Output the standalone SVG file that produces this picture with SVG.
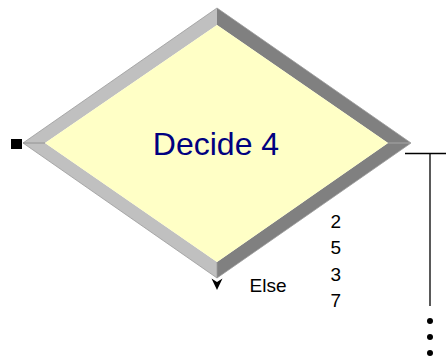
<svg xmlns="http://www.w3.org/2000/svg" width="446" height="360" viewBox="0 0 446 360">
<style>
.light{fill:#c0c0c0}
.dark{fill:#808080}
.lbl{font-family:"Liberation Sans",Arial,sans-serif;font-size:19px;fill:#000}
.title{font-family:"Liberation Sans",Arial,sans-serif;font-size:32px;fill:#000080}
.conn{stroke:#000;stroke-width:1.3;fill:none}
</style>
<rect width="446" height="360" fill="#fff"/>
<g id="decide4">
<polygon class="light" points="23,143 217,8 217,25 45,143"/>
<polygon class="dark" points="217,8 411,143 388,143 217,25"/>
<polygon class="dark" points="411,143 217,278 217,262 388,143"/>
<polygon class="light" points="23,143 45,143 217,262 217,278"/>
<polygon points="45,143 217,25 388,143 217,262" fill="#ffffc6"/>
<polygon points="23,143 217,8 411,143 217,278" fill="none" stroke="#9a9a9a" stroke-width="0.8"/>
<line x1="23" y1="143" x2="45" y2="143" stroke="#888" stroke-width="0.8"/>
<line x1="388" y1="143" x2="411" y2="143" stroke="#b0b0b0" stroke-width="0.8"/>
<line x1="217" y1="262" x2="217" y2="278" stroke="#999" stroke-width="0.8"/>
<text class="title" x="216" y="155" text-anchor="middle">Decide 4</text>
<rect x="11" y="139" width="11" height="10" fill="#000"/>
<path d="M211.5,278.5 L217,282 L222.5,278.5 L217,290 Z" fill="#000"/>
<text class="lbl" x="249.5" y="292">Else</text>
<text class="lbl" x="330.5" y="228">2</text>
<text class="lbl" x="330.5" y="254">5</text>
<text class="lbl" x="330.5" y="281">3</text>
<text class="lbl" x="330.5" y="307">7</text>
</g>
<g id="connectors">
<line class="conn" x1="405" y1="153.5" x2="446" y2="153.5"/>
<line class="conn" x1="430" y1="153.5" x2="430" y2="306"/>
<circle cx="430" cy="321" r="3" fill="#000"/>
<circle cx="430" cy="337" r="3" fill="#000"/>
<circle cx="430" cy="353" r="3" fill="#000"/>
</g>
</svg>
